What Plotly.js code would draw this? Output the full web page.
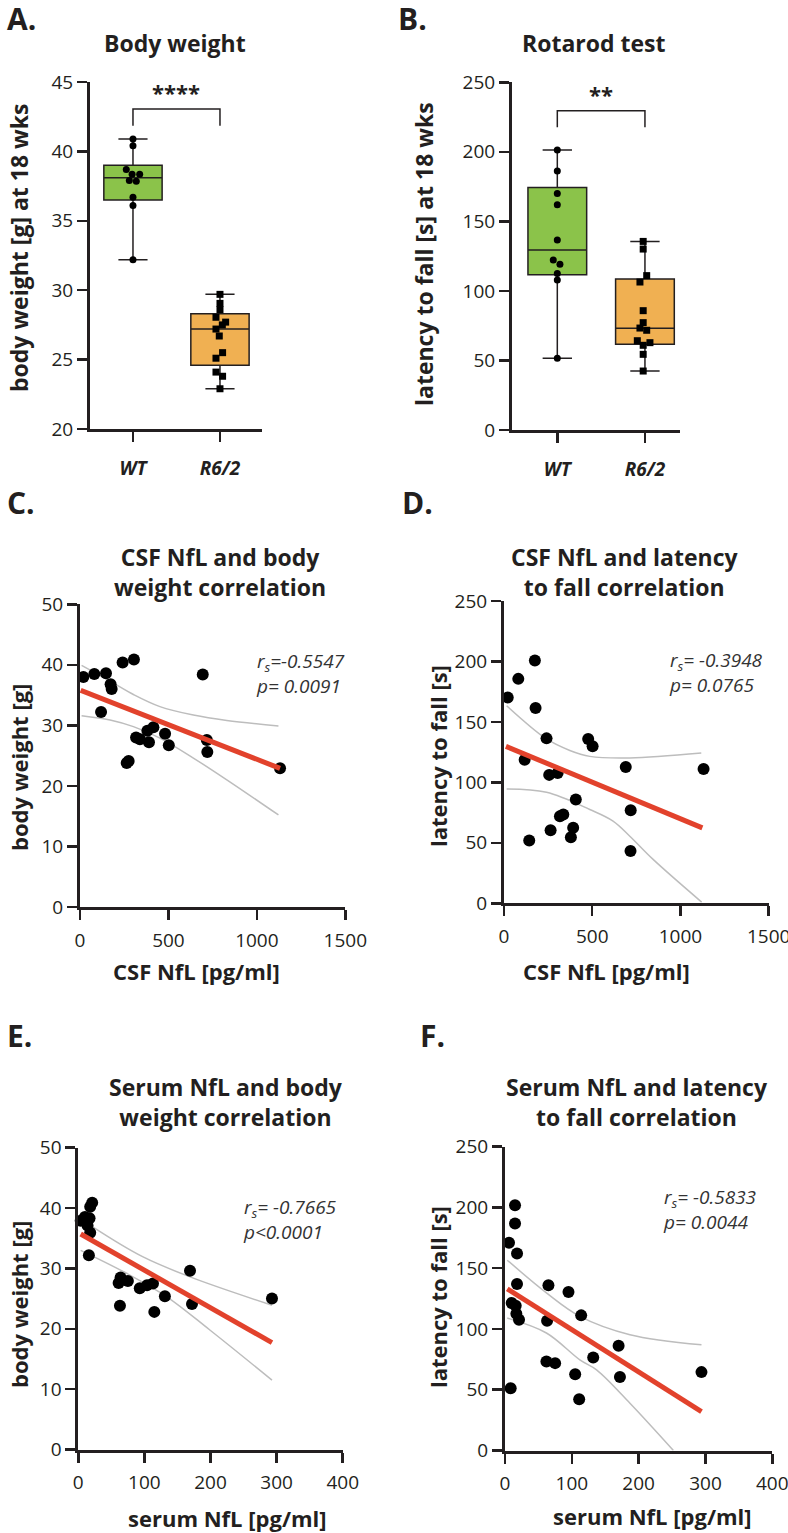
<!DOCTYPE html>
<html>
<head>
<meta charset="utf-8">
<script src="https://cdn.plot.ly/plotly-3.0.1.min.js"></script>
<style>
  body { margin: 0; background: #fff; }
  #plot { width: 788px; height: 1533px; }
</style>
</head>
<body>
<div id="plot"></div>
<script>
// Size of the figure
const W = 788;
const H = 1533;

// Groups for the box plots
const groups = ['WT', 'R6/2'];

// A. Body weight at 18 wks (box stats: min, q1, median, q3, max)
const weightBoxWT = [32.2, 36.5, 38.1, 39.0, 40.9];
const weightBoxR62 = [22.9, 24.6, 27.2, 28.3, 29.7];
const weightWT = [40.9, 40.4, 38.7, 38.35, 38.35, 37.9, 37.85, 36.7, 36.1, 32.2];
const weightWTJitter = [0, 0, -0.077, -0.01, 0.077, -0.042, 0.038, 0, 0, 0];
const weightR62 = [29.7, 29.05, 28.6, 28.05, 27.7, 27.5, 27.2, 26.7, 25.5, 25.1, 24.1, 23.8, 22.9];
const weightR62Jitter = [0, 0, 0, -0.046, 0.065, 0.027, -0.046, -0.008, 0.03, -0.046, -0.046, 0.03, 0];

// B. Rotarod latency at 18 wks
const latencyBoxWT = [51.5, 111.7, 129.4, 174.4, 201.3];
const latencyBoxR62 = [42.4, 61.6, 73.1, 108.6, 135.6];
const latencyWT = [201.3, 186.2, 170.1, 162.0, 136.6, 122.2, 119.1, 112.6, 107.8, 51.5];
const latencyWTJitter = [0, 0, 0, 0, 0, -0.046, 0.03, 0, 0, 0];
const latencyR62 = [135.6, 130.1, 111.0, 106.4, 85.8, 77.2, 73.3, 71.7, 64.2, 62.8, 60.9, 54.4, 42.4];
const latencyR62Jitter = [-0.02, -0.02, 0.02, -0.057, -0.02, -0.02, -0.057, 0.02, -0.087, 0.057, -0.02, -0.02, -0.02];

// C. CSF NfL vs body weight
const csfNflC = [19, 81, 147, 173, 179, 119, 241, 305, 694, 264, 275, 317, 339, 390, 381, 415, 481, 502, 717, 720, 1131];
const weightC = [38.0, 38.5, 38.6, 36.8, 36.0, 32.2, 40.4, 40.9, 38.4, 23.8, 24.1, 28.0, 27.7, 27.2, 29.1, 29.7, 28.6, 26.7, 27.6, 25.6, 22.9];
const fitXC = [4, 1131];
const fitYC = [35.8, 22.9];
const upperXC = [9, 170, 302, 452, 641, 830, 1122];
const upperYC = [39.9, 37.3, 35.1, 33.1, 31.7, 30.8, 29.9];
const lowerXC = [9, 170, 302, 452, 641, 830, 1122];
const lowerYC = [31.6, 30.9, 29.8, 27.9, 24.6, 21.0, 15.2];

// D. CSF NfL vs latency to fall
const csfNflD = [21, 81, 175, 179, 241, 117, 256, 304, 477, 502, 690, 1131, 407, 718, 317, 336, 264, 392, 379, 143, 717];
const latencyD = [170.2, 185.6, 200.8, 161.5, 136.4, 118.8, 106.2, 107.8, 135.9, 129.8, 112.8, 111.1, 85.8, 77.0, 72.0, 73.4, 60.5, 62.4, 54.7, 52.0, 43.2];
const fitXD = [11, 1124];
const fitYD = [129.8, 62.4];
const upperXD = [15, 241, 373, 486, 713, 1118];
const upperYD = [163.4, 135.9, 126.4, 121.5, 120.2, 124.3];
const lowerXD = [15, 241, 486, 618, 713, 845, 1120];
const lowerYD = [94.6, 91.8, 77.6, 68.0, 55.5, 36.3, 1];

// E. serum NfL vs body weight
const serumE = [3.6, 10, 17, 18, 21, 14, 18, 16, 61, 64, 75, 63, 93, 104, 113, 115, 131, 169, 172, 293];
const weightE = [37.9, 38.5, 38.3, 40.2, 40.9, 37.1, 35.9, 32.2, 27.6, 28.5, 27.9, 23.8, 26.7, 27.2, 27.5, 22.8, 25.4, 29.6, 24.1, 25.0];
const fitXE = [3.6, 293];
const fitYE = [35.7, 17.7];
const upperXE = [3.6, 23, 98, 169, 293];
const upperYE = [38.3, 36.8, 31.9, 28.6, 23.9];
const lowerXE = [3.6, 73, 134, 199, 293];
const lowerYE = [33.0, 29.2, 25.3, 19.8, 11.5];

// F. serum NfL vs latency to fall
const serumF = [15, 15, 6, 18, 18, 65, 95, 10, 16, 17, 21, 63, 114, 170, 132, 62, 75, 105, 172, 294, 8.5, 111];
const latencyF = [201.9, 186.8, 170.9, 162.1, 137.1, 135.9, 130.5, 121.4, 119.2, 112.6, 107.6, 106.8, 111.2, 86.2, 76.6, 73.3, 71.9, 62.8, 60.4, 64.5, 51.3, 42.2];
const fitXF = [3.4, 294];
const fitYF = [133, 32];
const upperXF = [3.4, 62, 112, 187, 294];
const upperYF = [156.6, 129.7, 110.4, 95.3, 87.0];
const lowerXF = [3.4, 62, 112, 137, 187, 252];
const lowerYF = [109, 96.7, 74.6, 66.4, 38.9, 0];

// Colours
const INK = '#231f20';
const GREEN = '#8bc34a';
const ORANGE = '#f0b052';
const RED = '#e2422c';
const GREY = '#bdbdbd';
const FONT = '"Open Sans", "Noto Sans", sans-serif';

// pixel -> paper helpers
const px = x => x / W;
const py = y => 1 - y / H;

// Box trace from a [min, q1, median, q3, max] list
function boxTrace(stats, pos, color, ax) {
    return {
        type: 'box', x: [pos],
        lowerfence: [stats[0]], q1: [stats[1]], median: [stats[2]],
        q3: [stats[3]], upperfence: [stats[4]],
        width: 0.67, whiskerwidth: 0.5, fillcolor: color,
        line: { color: INK, width: 1.5 },
        boxpoints: false, hoverinfo: 'skip',
        xaxis: 'x' + ax, yaxis: 'y' + ax
    };
}

// Dots on top of the boxes
function dotTrace(values, jitter, pos, symbol, ax) {
    return {
        type: 'scatter', mode: 'markers',
        x: jitter.map(j => pos + j), y: values,
        marker: { color: '#000', size: 7, symbol: symbol },
        cliponaxis: false,
        xaxis: 'x' + ax, yaxis: 'y' + ax
    };
}

// Scatter + fit + confidence band lines for C-F
function corrTraces(x, y, fx, fy, ux, uy, lx, ly, ax) {
    const a = { xaxis: 'x' + ax, yaxis: 'y' + ax };
    return [
        Object.assign({ type: 'scatter', mode: 'lines', x: ux, y: uy, line: { color: GREY, width: 1.5, shape: 'spline' } }, a),
        Object.assign({ type: 'scatter', mode: 'lines', x: lx, y: ly, line: { color: GREY, width: 1.5, shape: 'spline' } }, a),
        Object.assign({ type: 'scatter', mode: 'markers', x: x, y: y, marker: { color: '#000', size: 12 }, cliponaxis: false }, a),
        Object.assign({ type: 'scatter', mode: 'lines', x: fx, y: fy, line: { color: RED, width: 5 } }, a)
    ];
}

const traces = [
    boxTrace(weightBoxWT, 0, GREEN, ''),
    boxTrace(weightBoxR62, 1, ORANGE, ''),
    dotTrace(weightWT, weightWTJitter, 0, 'circle', ''),
    dotTrace(weightR62, weightR62Jitter, 1, 'square', ''),
    boxTrace(latencyBoxWT, 0, GREEN, '2'),
    boxTrace(latencyBoxR62, 1, ORANGE, '2'),
    dotTrace(latencyWT, latencyWTJitter, 0, 'circle', '2'),
    dotTrace(latencyR62, latencyR62Jitter, 1, 'square', '2'),
    ...corrTraces(csfNflC, weightC, fitXC, fitYC, upperXC, upperYC, lowerXC, lowerYC, '3'),
    ...corrTraces(csfNflD, latencyD, fitXD, fitYD, upperXD, upperYD, lowerXD, lowerYD, '4'),
    ...corrTraces(serumE, weightE, fitXE, fitYE, upperXE, upperYE, lowerXE, lowerYE, '5'),
    ...corrTraces(serumF, latencyF, fitXF, fitYF, upperXF, upperYF, lowerXF, lowerYF, '6')
];

// Shared axis look
function axis(domain, range, dtick, extra) {
    return Object.assign({
        domain: domain, range: range, dtick: dtick,
        showline: true, linecolor: INK, linewidth: 3,
        ticks: 'outside', ticklen: 10, tickwidth: 2.5, tickcolor: INK,
        showgrid: false, zeroline: false, fixedrange: true,
        ticklabeloverflow: 'allow',
        tickfont: { family: FONT, size: 19, color: INK }
    }, extra || {});
}

const catTicks = {
    tickmode: 'array', tickvals: [0, 1],
    ticktext: groups.map(g => '<b><i>' + g + '</i></b>'),
    ticklabelstandoff: 10
};

// Text helpers
function note(text, x, y, size, opts) {
    return Object.assign({
        text: text, xref: 'paper', yref: 'paper', x: px(x), y: py(y),
        xanchor: 'center', yanchor: 'middle',
        showarrow: false, font: { family: FONT, size: size, color: INK }
    }, opts || {});
}
const bold = s => '<b>' + s + '</b>';
const stats = (r, p) => '<i>r<sub>s</sub>' + r + '</i><br><i>' + p + '</i>';
const statOpts = { xanchor: 'left', yanchor: 'top', align: 'left', font: { family: FONT, size: 19, color: '#333' } };

const annotations = [
    // panel letters
    note(bold('A.'), 5, 19, 30, { xanchor: 'left' }),
    note(bold('B.'), 396, 19, 30, { xanchor: 'left' }),
    note(bold('C.'), 5, 503, 30, { xanchor: 'left' }),
    note(bold('D.'), 400, 503, 30, { xanchor: 'left' }),
    note(bold('E.'), 5, 1035, 30, { xanchor: 'left' }),
    note(bold('F.'), 418, 1035, 30, { xanchor: 'left' }),
    // panel titles
    note(bold('Body weight'), 175, 43, 23),
    note(bold('Rotarod test'), 594, 43, 23),
    note(bold('CSF NfL and body<br>weight correlation'), 220, 572, 23),
    note(bold('CSF NfL and latency<br>to fall correlation'), 624, 572, 23),
    note(bold('Serum NfL and body<br>weight correlation'), 226, 1102, 23),
    note(bold('Serum NfL and latency<br>to fall correlation'), 637, 1102, 23),
    // axis titles
    note(bold('body weight [g] at 18 wks'), 19, 248, 23, { textangle: -90 }),
    note(bold('latency to fall [s] at 18 wks'), 424, 254, 23, { textangle: -90 }),
    note(bold('body weight [g]'), 19, 768, 22, { textangle: -90 }),
    note(bold('CSF NfL [pg/ml]'), 196, 971, 22),
    note(bold('latency to fall [s]'), 438, 756, 22, { textangle: -90 }),
    note(bold('CSF NfL [pg/ml]'), 606, 971, 22),
    note(bold('body weight [g]'), 19, 1305, 22, { textangle: -90 }),
    note(bold('serum NfL [pg/ml]'), 228, 1518, 22),
    note(bold('latency to fall [s]'), 438, 1297, 22, { textangle: -90 }),
    note(bold('serum NfL [pg/ml]'), 652, 1516, 22),
    // correlation stats
    note(stats('=-0.5547', 'p= 0.0091'), 254, 646, 19, statOpts),
    note(stats('= -0.3948', 'p= 0.0765'), 667, 645, 19, statOpts),
    note(stats('= -0.7665', 'p<0.0001'), 241, 1192, 19, statOpts),
    note(stats('= -0.5833', 'p= 0.0044'), 661, 1182, 19, statOpts),
    // significance stars
    { text: bold('****'), xref: 'x', yref: 'y', x: 0.5, y: 43.05, yanchor: 'bottom', showarrow: false,
      font: { family: FONT, size: 22, color: INK } },
    { text: bold('**'), xref: 'x2', yref: 'y2', x: 0.5, y: 229.5, yanchor: 'bottom', showarrow: false,
      font: { family: FONT, size: 22, color: INK } }
];

// Significance brackets
const shapes = [
    { type: 'path', xref: 'x', yref: 'y', path: 'M 0,41.85 L 0,43.05 L 1,43.05 L 1,41.85',
      line: { color: INK, width: 1.5 } },
    { type: 'path', xref: 'x2', yref: 'y2', path: 'M 0,217.6 L 0,229.5 L 1,229.5 L 1,217.6',
      line: { color: INK, width: 1.5 } }
];

const layout = {
    width: W, height: H,
    margin: { l: 0, r: 0, t: 0, b: 0 },
    showlegend: false,
    paper_bgcolor: '#fff', plot_bgcolor: '#fff',
    font: { family: FONT, color: INK },
    xaxis: axis([px(90), px(262)], [-0.494, 1.483], 1, Object.assign({ anchor: 'y' }, catTicks)),
    yaxis: axis([py(429), py(82)], [20, 45], 5, { anchor: 'x' }),
    xaxis2: axis([px(512), px(680)], [-0.517, 1.40], 1, Object.assign({ anchor: 'y2' }, catTicks)),
    yaxis2: axis([py(430), py(82.3)], [0, 250], 50, { anchor: 'x2' }),
    xaxis3: axis([px(80), px(345.3)], [0, 1500], 500, { anchor: 'y3', ticklabelstandoff: 4 }),
    yaxis3: axis([py(907), py(604.3)], [0, 50], 10, { anchor: 'x3' }),
    xaxis4: axis([px(504), px(768.7)], [0, 1500], 500, { anchor: 'y4', ticklabelstandoff: 4 }),
    yaxis4: axis([py(903.3), py(601)], [0, 250], 50, { anchor: 'x4' }),
    xaxis5: axis([px(78.3), px(342.7)], [0, 400], 100, { anchor: 'y5', ticklabelstandoff: 4 }),
    yaxis5: axis([py(1449.5), py(1147.7)], [0, 50], 10, { anchor: 'x5' }),
    xaxis6: axis([px(505), px(772.3)], [0, 400], 100, { anchor: 'y6', ticklabelstandoff: 4 }),
    yaxis6: axis([py(1450.5), py(1146.7)], [0, 250], 50, { anchor: 'x6' }),
    annotations: annotations,
    shapes: shapes
};

Plotly.newPlot('plot', traces, layout, { staticPlot: true });
</script>
</body>
</html>
